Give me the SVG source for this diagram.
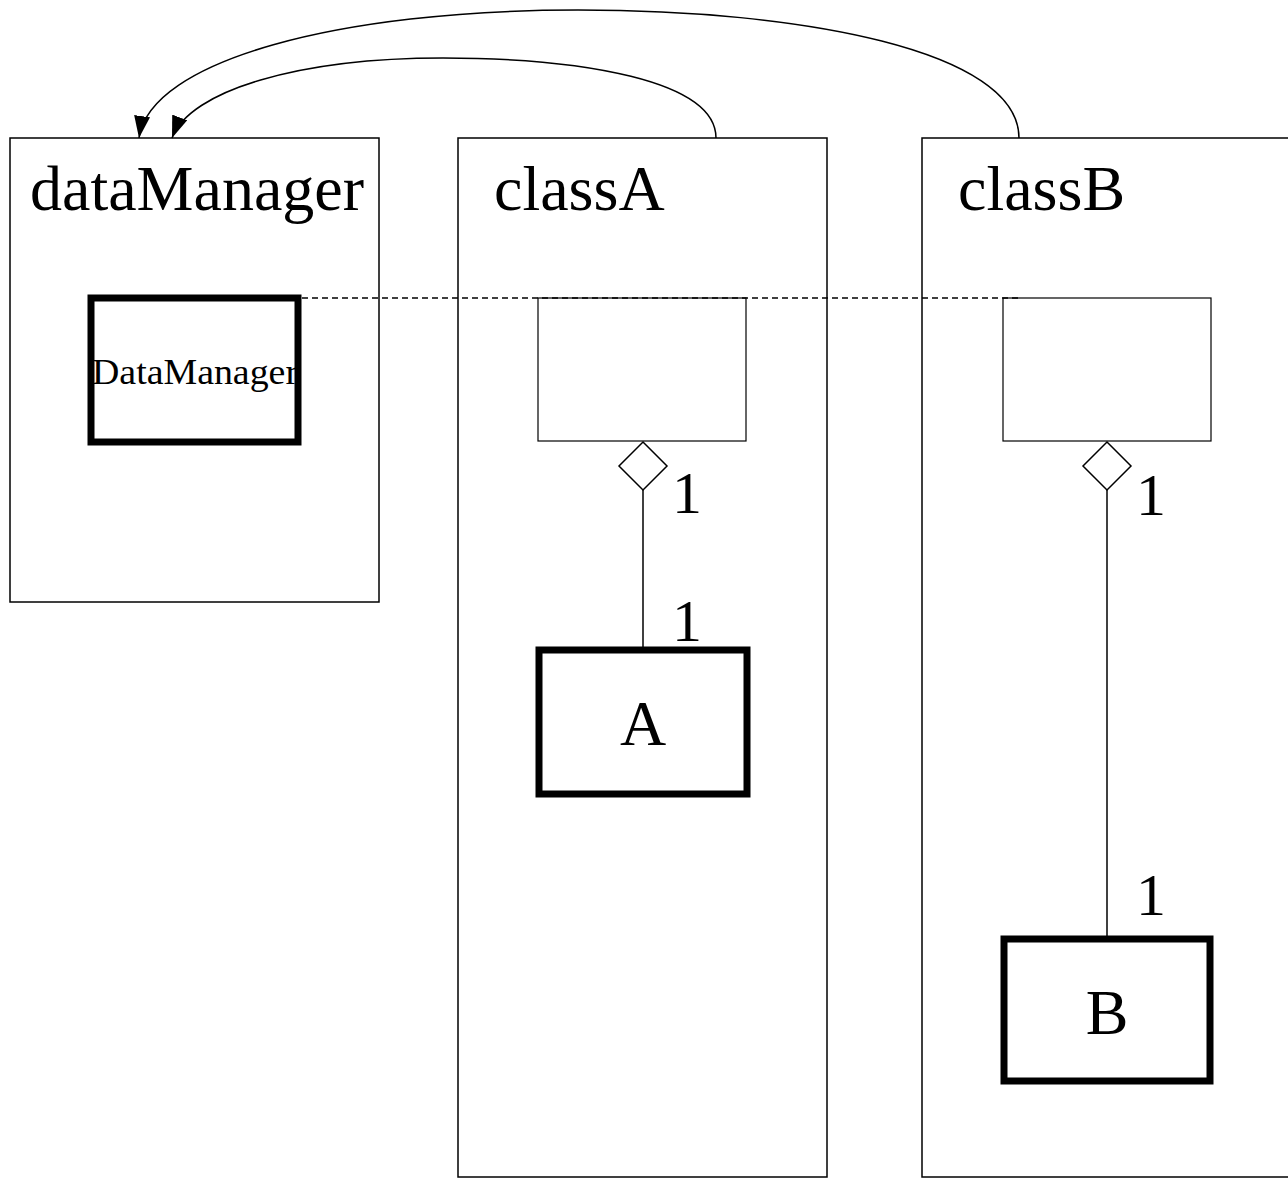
<svg xmlns="http://www.w3.org/2000/svg" width="1288" height="1179" viewBox="0 0 1288 1179">
<style>
.frame{fill:#fff;stroke:#000;stroke-width:1.5}
.thin{fill:#fff;stroke:#000;stroke-width:1.2}
.thick{fill:#fff;stroke:#000;stroke-width:7}
.t{font-family:"Liberation Serif","Times New Roman",serif;fill:#000}
.title{font-size:64px}
.mult{font-size:60px}
.line{fill:none;stroke:#000;stroke-width:1.5}
.dash{fill:none;stroke:#000;stroke-width:1.5;stroke-dasharray:6,4}
</style>
<defs>
<marker id="arr" markerWidth="24" markerHeight="16" refX="22" refY="8" orient="auto" markerUnits="userSpaceOnUse">
<path d="M0,0 L22,8 L0,16 Z" fill="#000"/>
</marker>
</defs>
<rect width="1288" height="1179" fill="#fff"/>
<g id="dataManager">
<rect class="frame" x="10" y="138" width="369" height="464"/>
<text class="t title" x="30" y="210">dataManager</text>
</g>
<g id="classA">
<rect class="frame" x="458" y="138" width="369" height="1039"/>
<text class="t title" x="494" y="210">classA</text>
</g>
<g id="classB">
<rect class="frame" x="922" y="138" width="380" height="1039"/>
<text class="t title" x="958" y="210">classB</text>
</g>
<g id="DataManagerNode">
<rect class="thick" x="91" y="298" width="207" height="144"/>
<text class="t" x="92" y="384" font-size="36" textLength="206" lengthAdjust="spacingAndGlyphs">DataManager</text>
</g>
<g id="classAHolder">
<rect class="thin" x="538" y="298" width="208" height="143"/>
</g>
<g id="classBHolder">
<rect class="thin" x="1003" y="298" width="208" height="143"/>
</g>
<g id="nodeA">
<rect class="thick" x="539" y="650" width="208" height="144"/>
<text class="t title" x="643" y="745" text-anchor="middle">A</text>
</g>
<g id="nodeB">
<rect class="thick" x="1004" y="939" width="206" height="142"/>
<text class="t title" x="1107" y="1034" text-anchor="middle">B</text>
</g>
<g id="connectors">
<line class="dash" x1="302" y1="298" x2="1018" y2="298"/>
<path class="line" d="M643,490 L643,650"/>
<path d="M643,442 L667,466 L643,490 L619,466 Z" fill="#fff" stroke="#000" stroke-width="1.5"/>
<path class="line" d="M1107,490 L1107,939"/>
<path d="M1107,442 L1131,466 L1107,490 L1083,466 Z" fill="#fff" stroke="#000" stroke-width="1.5"/>
<path class="line" d="M1019,138 C1019,50 800,10 578,10 C340,10 150,60 139,138" marker-end="url(#arr)"/>
<path class="line" d="M716,138 C716,80 580,58 443,58 C300,58 190,90 172,138" marker-end="url(#arr)"/>
<text class="t mult" x="672" y="513">1</text>
<text class="t mult" x="672" y="641">1</text>
<text class="t mult" x="1136" y="515">1</text>
<text class="t mult" x="1136" y="915">1</text>
</g>
</svg>
